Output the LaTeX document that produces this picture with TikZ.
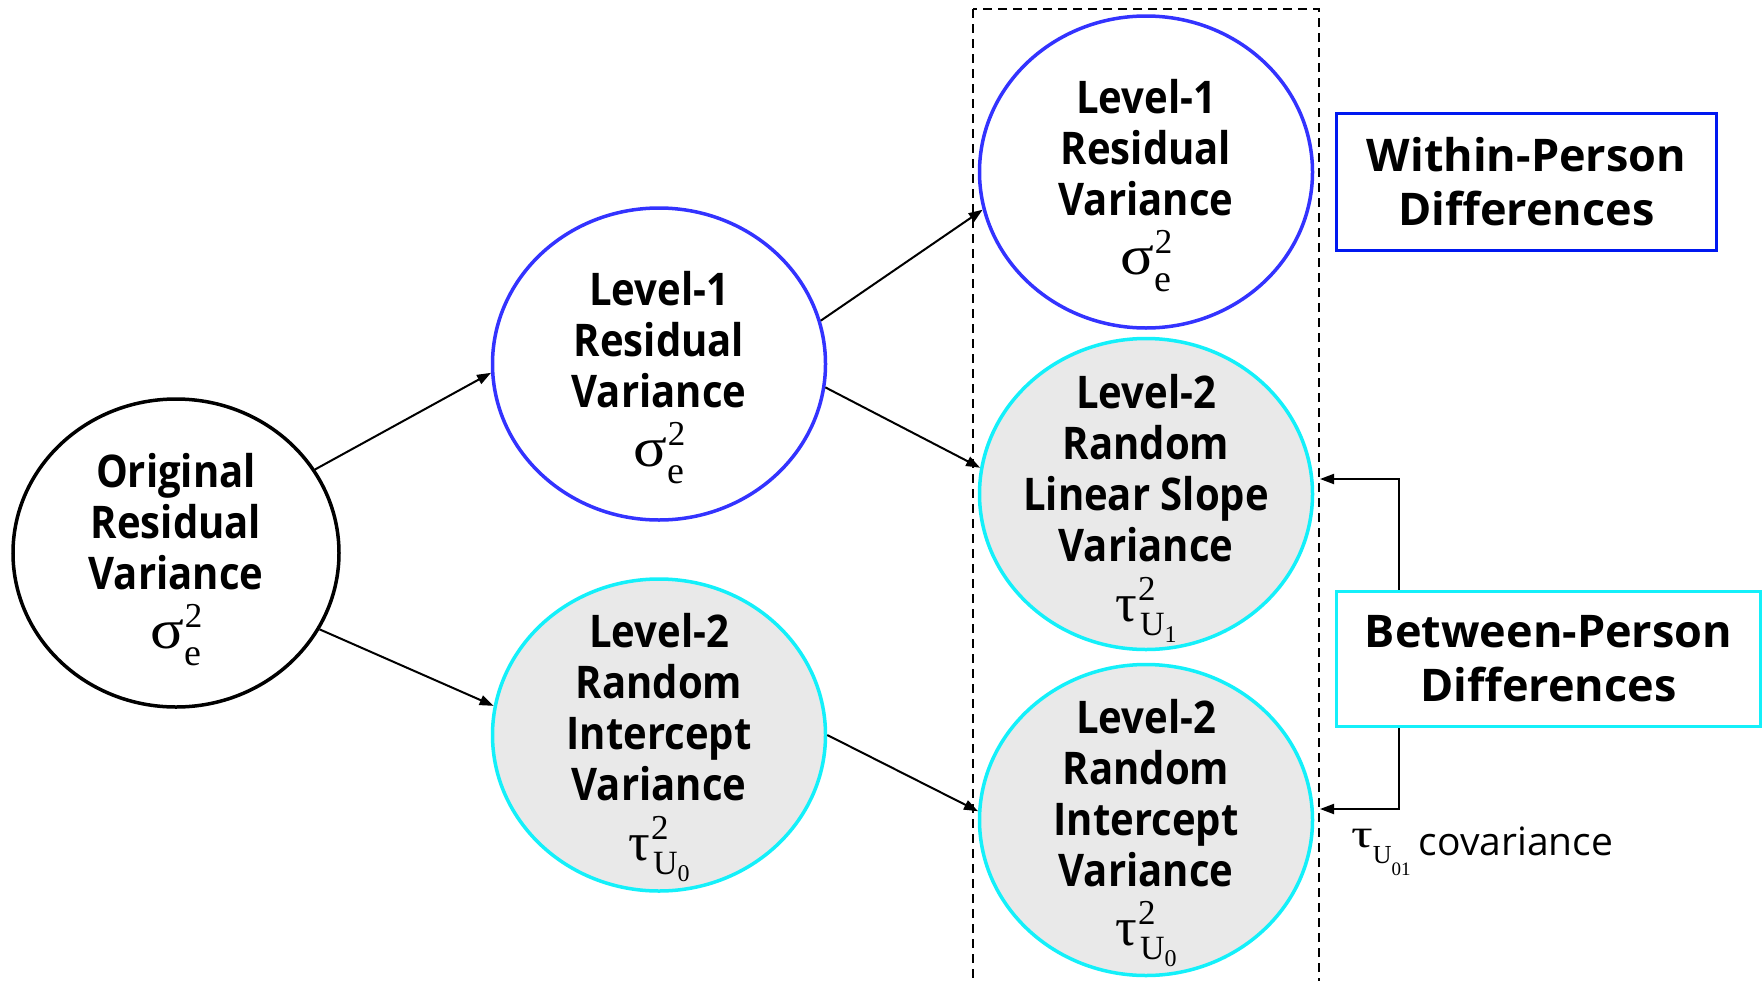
\documentclass[tikz,border=0pt]{standalone}
\usepackage{fontspec}
\usepackage{graphicx}
\setmainfont{Open Sans}
\newfontfamily\efont{Open Sans}[FakeStretch=0.89]
\newfontfamily\mfont{Liberation Serif}
\usetikzlibrary{arrows.meta,shapes.geometric}
\definecolor{eblue}{RGB}{51,51,255}
\definecolor{bblue}{RGB}{0,24,240}
\definecolor{ecyan}{RGB}{20,240,250}
\definecolor{egray}{RGB}{233,233,233}
\newcommand{\sigE}{\mdseries\mfont{\fontsize{56}{56}\selectfont\scalebox{1.12}[1]{σ}}\kern1pt\rlap{\smash{\raisebox{21pt}{\fontsize{35}{35}\selectfont 2}}}\raisebox{-17pt}{\fontsize{38}{38}\selectfont e}}
\newcommand{\tauU}[1]{\mdseries\mfont{\fontsize{54}{54}\selectfont τ}\kern1pt\rlap{\smash{\raisebox{21pt}{\fontsize{35}{35}\selectfont 2}}}\kern2pt\raisebox{-14pt}{\fontsize{34}{34}\selectfont U}\raisebox{-21pt}{\fontsize{24}{24}\selectfont #1}}
\newcommand{\lbl}[1]{\efont\fontsize{45}{51}\selectfont\bfseries\begin{tabular}[t]{@{}c@{}}#1\end{tabular}}
\begin{document}
\begin{tikzpicture}[x=1pt,y=-1pt,
  ell/.style={ellipse, line width=3.5pt, inner sep=0pt, minimum width=333pt, minimum height=312pt},
  txt/.style={anchor=base, inner sep=0pt},
  arr/.style={-{Triangle[length=14pt,width=10pt]}, line width=2pt},
  boxn/.style={rectangle, line width=3.3pt, inner sep=0pt, align=center, font=\fontsize{45}{54}\selectfont\bfseries}]
\clip (0,0) rectangle (1764,980);
\fill[white] (0,0) rectangle (1764,980);
% dashed group frame
\draw[line width=2.2pt, dash pattern=on 9pt off 6pt] (973,9) rectangle (1319,1000);
% ellipses
\node[ell, draw=black, minimum width=326pt, minimum height=308pt] (orig) at (176,553) {};
\node[ell, draw=eblue] (m1) at (659,364) {};
\node[ell, draw=ecyan, fill=egray] (m2) at (659,735) {};
\node[ell, draw=eblue] (r1) at (1146,172) {};
\node[ell, draw=ecyan, fill=egray, minimum height=311pt] (r2) at (1146,494) {};
\node[ell, draw=ecyan, fill=egray, minimum height=311pt] (r3) at (1146,820) {};
% texts
\node[txt] (origT) at (176,487) {\lbl{Original\\Residual\\Variance\\[8pt]\sigE}};
\node[txt] (m1T) at (659,305) {\lbl{Level-1\\Residual\\Variance\\[8pt]\sigE}};
\node[txt] (r1T) at (1146,113) {\lbl{Level-1\\Residual\\Variance\\[8pt]\sigE}};
\node[txt] (m2T) at (659,647) {\lbl{Level-2\\Random\\Intercept\\Variance\\[9pt]\tauU{0}}};
\node[txt] (r2T) at (1146,408) {\lbl{Level-2\\Random\\Linear Slope\\Variance\\[9pt]\tauU{1}}};
\node[txt] (r3T) at (1146,733) {\lbl{Level-2\\Random\\Intercept\\Variance\\[8pt]\tauU{0}}};
% boxes
\node[boxn, draw=bblue, minimum width=380pt, minimum height=137pt] (wp) at (1526.5,182) {Within-Person\\Differences};
\node[boxn, draw=ecyan, minimum width=424pt, minimum height=135pt] (bp) at (1548.5,659) {Between-Person\\Differences};
% arrows
\draw[arr] (orig.31) -- (m1.183);
\draw[arr] (orig.-28) -- (m2.170);
\draw[arr] (m1.15) -- (r1.193);
\draw[arr] (m1.-8) -- (r2.171);
\draw[arr] (m2.0) -- (r3.177);
% covariance
\coordinate (cx) at (1399,0);
\coordinate (tipA) at (1320,479);
\coordinate (tipB) at (1320,809);
\draw[arr] (bp.north -| cx) |- (tipA);
\draw[arr] (bp.south -| cx) |- (tipB);
\node[anchor=base west, inner sep=0pt] (cov) at (1351,855) {\mfont\raisebox{8pt}{\fontsize{40}{40}\selectfont\scalebox{1.35}[1]{τ}}\raisebox{-8pt}{\fontsize{26}{26}\selectfont U}\raisebox{-20pt}{\fontsize{19}{19}\selectfont 01}\hspace{8pt}{\fontfamily{\rmdefault}\fontsize{39}{39}\selectfont covariance}};
\end{tikzpicture}
\end{document}
